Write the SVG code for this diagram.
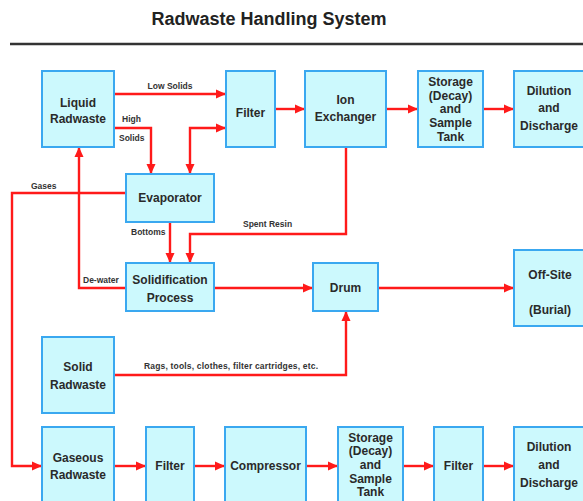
<svg xmlns="http://www.w3.org/2000/svg" width="583" height="501" viewBox="0 0 583 501">
<style>
.box{fill:#ccf9fd;stroke:#3aa8f0;stroke-width:2}
.t{font-family:"Liberation Sans",Arial,sans-serif;font-weight:bold;font-size:12px;fill:#2a2a2a;text-anchor:middle}
.s{font-family:"Liberation Sans",Arial,sans-serif;font-weight:bold;font-size:8.5px;fill:#333}
.c{fill:none;stroke:#ff1a1a;stroke-width:2.4}
.ttl{font-family:"Liberation Sans",Arial,sans-serif;font-weight:bold;font-size:18px;fill:#222;text-anchor:middle}
</style>
<defs>
<marker id="ah" markerUnits="userSpaceOnUse" markerWidth="12" markerHeight="10" refX="10" refY="5" orient="auto-start-reverse" viewBox="0 0 12 10">
<path d="M0,0.5 L10,5 L0,9.5 Z" fill="#ff1a1a"/>
</marker>
</defs>
<rect width="583" height="501" fill="#fff"/>
<text class="ttl" x="269" y="25">Radwaste Handling System</text>
<line x1="10" y1="44" x2="583" y2="44" stroke="#333" stroke-width="2.5"/>

<g id="connectors">
<path class="c" d="M114,94 H226" marker-end="url(#ah)"/>
<path class="c" d="M114,128 H151 V174" marker-end="url(#ah)"/>
<path class="c" d="M190,174 V128 H226" marker-start="url(#ah)" marker-end="url(#ah)"/>
<path class="c" d="M275,109 H305" marker-end="url(#ah)"/>
<path class="c" d="M386,109 H418" marker-end="url(#ah)"/>
<path class="c" d="M483,109 H514" marker-end="url(#ah)"/>
<path class="c" d="M126,193 H12 V466 H42" marker-end="url(#ah)"/>
<path class="c" d="M126,288 H79 V147" marker-end="url(#ah)"/>
<path class="c" d="M170,222 V263" marker-end="url(#ah)"/>
<path class="c" d="M346,147 V234 H190 V263" marker-end="url(#ah)"/>
<path class="c" d="M214,288 H313" marker-end="url(#ah)"/>
<path class="c" d="M378,288 H514" marker-end="url(#ah)"/>
<path class="c" d="M114,375 H346 V311" marker-end="url(#ah)"/>
<path class="c" d="M114,466 H146" marker-end="url(#ah)"/>
<path class="c" d="M194,466 H225" marker-end="url(#ah)"/>
<path class="c" d="M306,466 H338" marker-end="url(#ah)"/>
<path class="c" d="M403,466 H434" marker-end="url(#ah)"/>
<path class="c" d="M483,466 H514" marker-end="url(#ah)"/>
<text class="s" x="170" y="89" text-anchor="middle">Low Solids</text>
<text class="s" x="122" y="122">High</text>
<text class="s" x="119" y="141">Solids</text>
<text class="s" x="31" y="189">Gases</text>
<text class="s" x="243" y="227">Spent Resin</text>
<text class="s" x="131" y="235">Bottoms</text>
<text class="s" x="83" y="283">De-water</text>
<text class="s" x="144" y="369" textLength="174" lengthAdjust="spacing">Rags, tools, clothes, filter cartridges, etc.</text>
</g>

<g id="liquid-radwaste"><rect class="box" x="42" y="71" width="72" height="76"/><text class="t" x="78" y="107">Liquid</text><text class="t" x="78" y="123">Radwaste</text></g>
<g id="filter-1"><rect class="box" x="226" y="71" width="49" height="76"/><text class="t" x="250.5" y="117">Filter</text></g>
<g id="ion-exchanger"><rect class="box" x="305" y="71" width="81" height="76"/><text class="t" x="345.5" y="104">Ion</text><text class="t" x="345.5" y="121">Exchanger</text></g>
<g id="storage-1"><rect class="box" x="418" y="71" width="65" height="76"/><text class="t" x="450.5" y="86">Storage</text><text class="t" x="450.5" y="100">(Decay)</text><text class="t" x="450.5" y="113">and</text><text class="t" x="450.5" y="127">Sample</text><text class="t" x="450.5" y="141">Tank</text></g>
<g id="dilution-1"><rect class="box" x="514" y="71" width="76" height="76"/><text class="t" x="549" y="95">Dilution</text><text class="t" x="549" y="112">and</text><text class="t" x="549" y="130">Discharge</text></g>
<g id="evaporator"><rect class="box" x="126" y="174" width="88" height="48"/><text class="t" x="170" y="202">Evaporator</text></g>
<g id="solidification"><rect class="box" x="126" y="263" width="88" height="48"/><text class="t" x="170" y="284">Solidification</text><text class="t" x="170" y="302">Process</text></g>
<g id="drum"><rect class="box" x="313" y="263" width="65" height="48"/><text class="t" x="345.5" y="292">Drum</text></g>
<g id="off-site"><rect class="box" x="514" y="250" width="76" height="76"/><text class="t" x="550" y="279">Off-Site</text><text class="t" x="550" y="314">(Burial)</text></g>
<g id="solid-radwaste"><rect class="box" x="42" y="337" width="72" height="76"/><text class="t" x="78" y="371">Solid</text><text class="t" x="78" y="389">Radwaste</text></g>
<g id="gaseous-radwaste"><rect class="box" x="42" y="427" width="72" height="80"/><text class="t" x="78" y="462">Gaseous</text><text class="t" x="78" y="479">Radwaste</text></g>
<g id="filter-2"><rect class="box" x="146" y="427" width="48" height="80"/><text class="t" x="170" y="470">Filter</text></g>
<g id="compressor"><rect class="box" x="225" y="427" width="81" height="80"/><text class="t" x="265.5" y="470">Compressor</text></g>
<g id="storage-2"><rect class="box" x="338" y="427" width="65" height="80"/><text class="t" x="370.5" y="442">Storage</text><text class="t" x="370.5" y="455">(Decay)</text><text class="t" x="370.5" y="469">and</text><text class="t" x="370.5" y="483">Sample</text><text class="t" x="370.5" y="496">Tank</text></g>
<g id="filter-3"><rect class="box" x="434" y="427" width="49" height="80"/><text class="t" x="458.5" y="470">Filter</text></g>
<g id="dilution-2"><rect class="box" x="514" y="427" width="76" height="80"/><text class="t" x="549" y="451">Dilution</text><text class="t" x="549" y="469">and</text><text class="t" x="549" y="487">Discharge</text></g>
</svg>
